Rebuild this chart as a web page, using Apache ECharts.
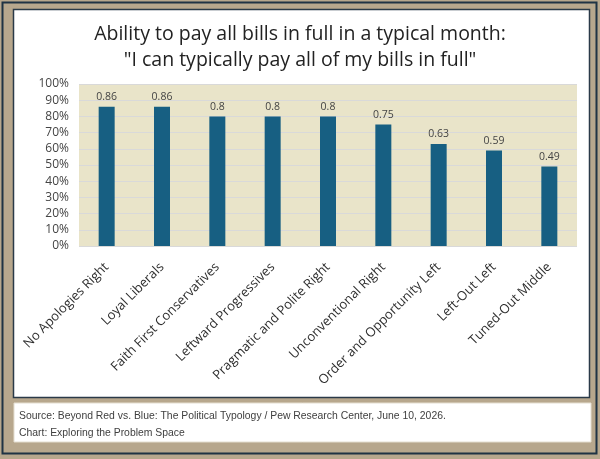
<!DOCTYPE html>
<html>
<head>
<meta charset="utf-8">
<script src="https://cdn.jsdelivr.net/npm/echarts@6/dist/echarts.min.js"></script>
<style>
html,body{margin:0;padding:0;background:#b7a78d;}
#c{width:600px;height:459px;}
</style>
</head>
<body>
<div id="c"></div>
<script>
const categories = ["No Apologies Right","Loyal Liberals","Faith First Conservatives","Leftward Progressives","Pragmatic and Polite Right","Unconventional Right","Order and Opportunity Left","Left-Out Left","Tuned-Out Middle"];
const values = [0.86,0.86,0.8,0.8,0.8,0.75,0.63,0.59,0.49];
const titleLines = ["Ability to pay all bills in full in a typical month:", "\"I can typically pay all of my bills in full\""];
const footerLines = ["Source: Beyond Red vs. Blue: The Political Typology / Pew Research Center, June 10, 2026.", "Chart: Exploring the Problem Space"];

const chart = echarts.init(document.getElementById('c'), null, {renderer:'canvas'});
const font = "'Open Sans', 'Noto Sans', sans-serif";
chart.setOption({
  backgroundColor: '#b7a78d',
  animation: false,
  graphic: [
    {type:'rect', z:-10, shape:{x:2.5,y:2.5,width:594,height:451}, style:{fill:'#b7a78d', stroke:'#1f3344', lineWidth:2}},
    {type:'rect', z:-9, shape:{x:13.5,y:9.5,width:576,height:388}, style:{fill:'#ffffff', stroke:'#2a3a48', lineWidth:1.5}},
    {type:'rect', z:-9, shape:{x:14,y:403,width:577,height:39}, style:{fill:'#ffffff', stroke:'#e4ded0', lineWidth:1}},
    {type:'text', left:19, top:408, style:{text: footerLines.join('\n'), font:"10.4px 'Liberation Sans', Arial, sans-serif", fill:'#404040', lineHeight:16.5}}
  ],
  title: {
    text: titleLines.join('\n'),
    left: 'center',
    top: 17,
    textStyle: {fontFamily: font, fontSize: 19.5, fontWeight: 'normal', color: '#222', lineHeight: 25.5}
  },
  grid: {left:79, right:23, top:84, bottom:213, backgroundColor:'#e9e4c9', show:true, borderWidth:0},
  xAxis: {
    type:'category',
    data: categories,
    axisLine:{show:false},
    axisTick:{show:false},
    axisLabel:{rotate:45, interval:0, margin:19, fontFamily:font, fontSize:13, color:'#2e2e2e'}
  },
  yAxis: {
    type:'value', min:0, max:1, interval:0.1,
    axisLabel:{formatter: v => Math.round(v*100)+'%', fontFamily:font, fontSize:12, color:'#444', margin:10},
    splitLine:{lineStyle:{color:'#d9d9d9', width:1}},
    axisLine:{show:false}, axisTick:{show:false}
  },
  series: [{
    type:'bar',
    data: values,
    barWidth: 16,
    itemStyle:{color:'#175f82'},
    label:{show:true, position:'top', distance:4, fontFamily:font, fontSize:10.5, color:'#444', formatter: p => String(p.value)}
  }]
});
</script>
</body>
</html>
